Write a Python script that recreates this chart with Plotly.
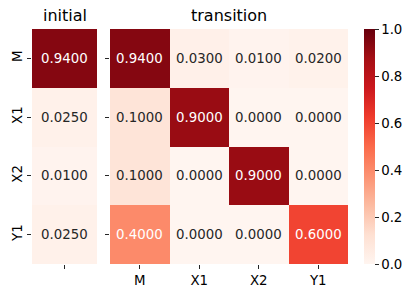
import plotly.graph_objects as go

states = ["M", "X1", "X2", "Y1"]
initial = [0.94, 0.025, 0.01, 0.025]
transition = [
    [0.94, 0.03, 0.01, 0.02],
    [0.10, 0.90, 0.00, 0.00],
    [0.10, 0.00, 0.90, 0.00],
    [0.40, 0.00, 0.00, 0.60],
]
cb_ticks = [0.0, 0.2, 0.4, 0.6, 0.8, 1.0]

W, H = 416, 297
reds = [[0.0, "#fff5f0"], [0.125, "#fee0d2"], [0.25, "#fcbba1"], [0.375, "#fc9272"],
        [0.5, "#fb6a4a"], [0.625, "#ef3b2c"], [0.75, "#cb181d"], [0.875, "#a50f15"],
        [1.0, "#67000d"]]
FONT = "DejaVu Sans"
DARK = "#262626"
FS = 13.33

fig = go.Figure()
fig.add_trace(go.Heatmap(
    z=[[v] for v in initial], x=["init"], y=states, colorscale=reds, zmin=0, zmax=1,
    showscale=False, xaxis="x", yaxis="y", hoverinfo="skip"))
fig.add_trace(go.Heatmap(
    z=transition, x=states, y=states, colorscale=reds, zmin=0, zmax=1,
    xaxis="x2", yaxis="y2", hoverinfo="skip",
    colorbar=dict(x=364 / W, xanchor="left", xpad=0, thickness=11,
                  lenmode="pixels", len=235, y=1 - 29 / H, yanchor="top", ypad=0,
                  outlinewidth=0, tickvals=cb_ticks,
                  ticktext=[f"{t:.1f}" for t in cb_ticks], ticks="outside",
                  ticklen=4, tickcolor=DARK, tickwidth=1,
                  tickfont=dict(family=FONT, size=FS, color="black"))))


def tcolor(v):
    return "white" if v >= 0.35 else DARK


annos = []
for i, s in enumerate(states):
    annos.append(dict(x="init", y=s, xref="x", yref="y", text=f"{initial[i]:.4f}",
                      showarrow=False, font=dict(family=FONT, size=FS, color=tcolor(initial[i]))))
    for j, c in enumerate(states):
        v = transition[i][j]
        annos.append(dict(x=c, y=s, xref="x2", yref="y2", text=f"{v:.4f}",
                          showarrow=False, font=dict(family=FONT, size=FS, color=tcolor(v))))
annos.append(dict(x=(32 + 97) / 2 / W, y=1 - 16 / H, xref="paper", yref="paper",
                  xanchor="center", yanchor="middle",
                  text="initial", showarrow=False, font=dict(family=FONT, size=16, color="black")))
annos.append(dict(x=(110 + 348) / 2 / W, y=1 - 16 / H, xref="paper", yref="paper",
                  xanchor="center", yanchor="middle",
                  text="transition", showarrow=False, font=dict(family=FONT, size=16, color="black")))

ydom = [1 - 264 / H, 1 - 29 / H]
axis_common = dict(ticks="outside", ticklen=4, tickcolor=DARK, tickwidth=1,
                   showgrid=False, zeroline=False, showline=False,
                   tickfont=dict(family=FONT, size=FS, color="black"))
fig.update_layout(
    width=W, height=H, margin=dict(l=0, r=0, t=0, b=0),
    paper_bgcolor="white", plot_bgcolor="white", hovermode=False,
    xaxis=dict(domain=[32 / W, 97 / W], anchor="y", tickvals=["init"], ticktext=[""], **axis_common),
    yaxis=dict(domain=ydom, anchor="x", autorange="reversed", tickangle=-90,
               categoryorder="array", categoryarray=states, **axis_common),
    xaxis2=dict(domain=[110 / W, 348 / W], anchor="y2", **axis_common),
    yaxis2=dict(domain=ydom, anchor="x2", autorange="reversed", tickangle=-90,
                categoryorder="array", categoryarray=states, showticklabels=False, **axis_common),
    annotations=annos,
)
fig.write_html("out.html", config={"displayModeBar": False},
               post_script="document.body.style.margin='0';")
